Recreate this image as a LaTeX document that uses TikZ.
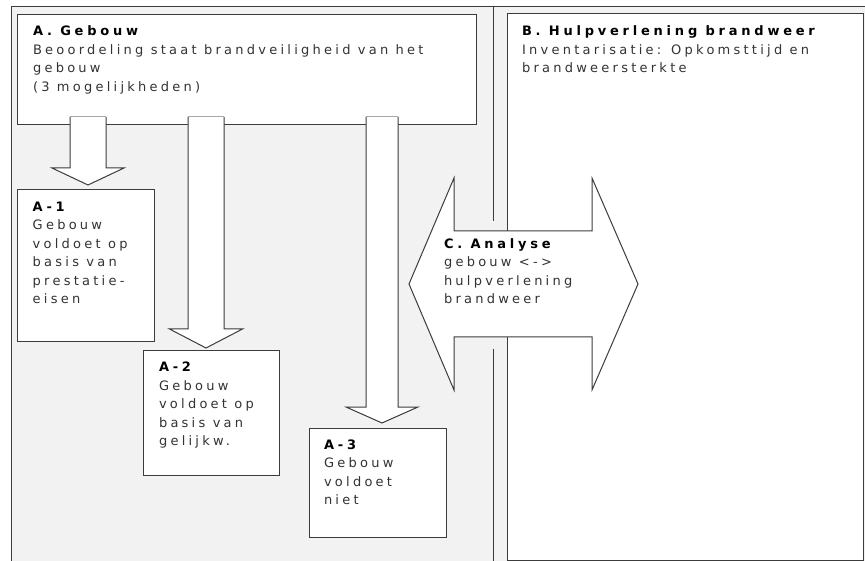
\documentclass[tikz,border=0pt]{standalone}
\usepackage{fontspec}
\setmainfont{DejaVu Sans}
\newfontfamily\bodyf{DejaVu Sans}[LetterSpace=25]
\newfontfamily\titlef{DejaVu Sans}[LetterSpace=29]
\usetikzlibrary{calc}
\definecolor{bggray}{HTML}{F2F2F2}
\definecolor{linegray}{HTML}{3C3C3C}
\definecolor{txtgray}{HTML}{333333}
\definecolor{shaftgray}{HTML}{A8A8A8}
\tikzset{
  boxstyle/.style={draw=linegray, fill=white, line width=1pt, inner sep=0pt, outer sep=0pt, anchor=north west},
  txtstyle/.style={anchor=base west, inner sep=0pt, outer sep=0pt, text=txtgray, font=\bodyf\fontsize{13}{18.5}\selectfont},
  arrline/.style={draw=linegray, line width=1pt, line join=miter},
  frameline/.style={draw=linegray, line width=1pt},
}
\newcommand\ttl[1]{{\color{black}\titlef\bfseries #1}}
\newcommand\blockarr[5]{%
  \fill[white] ($(#1)+(-#3,0)$) -- ($(#2)+(-#3,-#5)$) -- ($(#2)+(-#4,-#5)$) -- (#2) -- ($(#2)+(#4,-#5)$) -- ($(#2)+(#3,-#5)$) -- ($(#1)+(#3,0)$) -- cycle;
  \draw[arrline] ($(#1)+(-#3,0)$) -- ($(#2)+(-#3,-#5)$) -- ($(#2)+(-#4,-#5)$) -- (#2) -- ($(#2)+(#4,-#5)$) -- ($(#2)+(#3,-#5)$) -- ($(#1)+(#3,0)$);
  \draw[shaftgray, line width=1pt] ($(#1)+(-#3,0)$) -- ($(#1)+(#3,0)$);
}
\begin{document}
\begin{tikzpicture}[x=1pt,y=-1pt]
\useasboundingbox (0,0) rectangle (865,561);
\fill[bggray] (11,7) rectangle (865,561);
\draw[frameline] (865,7) -- (11,7) -- (11,561);
\draw[frameline] (493,7) -- (493,221);
\draw[frameline] (493,349) -- (493,561);

\node[boxstyle, minimum width=356, minimum height=546] (boxB) at (507,14) {};
\node[boxstyle, minimum width=459, minimum height=110] (boxA) at (17,15) {};
\node[boxstyle, minimum width=137, minimum height=152] (a1) at (17,190) {};
\node[boxstyle, minimum width=136, minimum height=124] (a2) at (143,351) {};
\node[boxstyle, minimum width=137, minimum height=109] (a3) at (309,428) {};

\coordinate (s1) at (88,117);  \coordinate (e1) at (88,185);
\coordinate (s2) at (206,117); \coordinate (e2) at (206,348);
\coordinate (s3) at (382,117); \coordinate (e3) at (382,423);
\blockarr{s1}{e1}{18}{36}{17}
\blockarr{s2}{e2}{18}{36.5}{19}
\blockarr{s3}{e3}{16}{36}{16}

\draw[arrline, fill=white] (409,284) coordinate (cL) -- (454,178) -- (454,231) -- (592,231) -- (592,178) -- (638,284) coordinate (cR) -- (592,390) -- (592,337) -- (454,337) -- (454,390) -- cycle;

\node[txtstyle] (ta) at (33,35.7) {\begin{tabular}[t]{@{}l@{}}\ttl{A. Gebouw}\\ Beoordeling staat brandveiligheid van het\\ gebouw\\ (3 mogelijkheden)\end{tabular}};
\node[txtstyle] (tb) at (522,35.7) {\begin{tabular}[t]{@{}l@{}}\ttl{B. Hulpverlening brandweer}\\ Inventarisatie: Opkomsttijd en\\ brandweersterkte\end{tabular}};
\node[txtstyle] (t1) at (32.7,211.5) {\begin{tabular}[t]{@{}l@{}}\ttl{A-1}\\ Gebouw\\ voldoet op\\ basis van\\ prestatie-\\ eisen\end{tabular}};
\node[txtstyle] (t2) at (159,371.7) {\begin{tabular}[t]{@{}l@{}}\ttl{A-2}\\ Gebouw\\ voldoet op\\ basis van\\ gelijkw.\end{tabular}};
\node[txtstyle] (t3) at (324,449) {\begin{tabular}[t]{@{}l@{}}\ttl{A-3}\\ Gebouw\\ voldoet\\ niet\end{tabular}};
\node[txtstyle] (tc) at (444,248.3) {\begin{tabular}[t]{@{}l@{}}\ttl{C. Analyse}\\ gebouw <->\\ hulpverlening\\ brandweer\end{tabular}};
\end{tikzpicture}
\end{document}
